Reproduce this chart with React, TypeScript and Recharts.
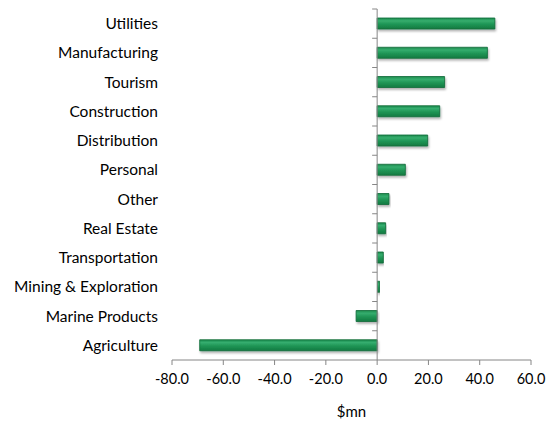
import { BarChart, Bar, XAxis, YAxis, ReferenceLine } from 'recharts';

const sectors = [
  'Utilities',
  'Manufacturing',
  'Tourism',
  'Construction',
  'Distribution',
  'Personal',
  'Other',
  'Real Estate',
  'Transportation',
  'Mining & Exploration',
  'Marine Products',
  'Agriculture',
];
const changes = [45.9, 43.0, 26.3, 24.4, 19.7, 11.0, 4.6, 3.3, 2.4, 1.0, -8.2, -69.2];
const xTicks = [-80, -60, -40, -20, 0, 20, 40, 60];

const data = sectors.map((name, i) => ({ name, value: changes[i] }));

const font = 'Lato, "Open Sans", sans-serif';
const axisGray = '#868686';

// zero axis with the category tick marks hanging off its left side
function ZeroAxis(props: any) {
  const { x1, y1, y2 } = props;
  const top = Math.min(y1, y2);
  const bottom = Math.max(y1, y2);
  const step = (bottom - top) / sectors.length;
  const marks = [];
  for (let i = 0; i < sectors.length; i++) {
    const y = top + i * step;
    marks.push(<line key={i} x1={x1 - 5} x2={x1} y1={y} y2={y} stroke={axisGray} strokeWidth={1} />);
  }
  return (
    <g>
      <line x1={x1} x2={x1} y1={top} y2={bottom} stroke={axisGray} strokeWidth={1} />
      {marks}
    </g>
  );
}

export default function App() {
  return (
    <div style={{ width: 551, height: 415 }}>
      <BarChart
        width={551}
        height={415}
        data={data}
        layout="vertical"
        margin={{ top: 1, right: 28, left: 0, bottom: 0 }}
        barCategoryGap={0}
      >
        <defs>
          <linearGradient id="barFill" x1="0" y1="0" x2="0" y2="1">
            <stop offset="0%" stopColor="#1d8a4d" />
            <stop offset="25%" stopColor="#35ad6e" />
            <stop offset="55%" stopColor="#209656" />
            <stop offset="100%" stopColor="#137a41" />
          </linearGradient>
          <filter id="barShadow" x="-5%" y="-30%" width="115%" height="180%">
            <feDropShadow dx="1" dy="2" stdDeviation="1" floodColor="#000" floodOpacity="0.3" />
          </filter>
        </defs>
        <XAxis
          type="number"
          domain={[-80, 60]}
          ticks={xTicks}
          tickFormatter={(v: number) => v.toFixed(1)}
          height={63}
          stroke={axisGray}
          tickSize={5}
          tick={{ fill: '#000', fontSize: 14.5, fontFamily: font }}
          tickMargin={9}
          label={{ value: '$mn', position: 'insideBottom', offset: 6, fill: '#000', fontSize: 15, fontFamily: font }}
        />
        <YAxis
          type="category"
          dataKey="name"
          width={164}
          axisLine={false}
          tickLine={false}
          tickMargin={8}
          tick={{ fill: '#000', fontSize: 15.5, fontFamily: font }}
          interval={0}
        />
        <ReferenceLine x={0} shape={ZeroAxis} />
        <Bar
          dataKey="value"
          barSize={11}
          fill="url(#barFill)"
          stroke="#0f6a37"
          strokeWidth={0.8}
          filter="url(#barShadow)"
          isAnimationActive={false}
        />
      </BarChart>
    </div>
  );
}
